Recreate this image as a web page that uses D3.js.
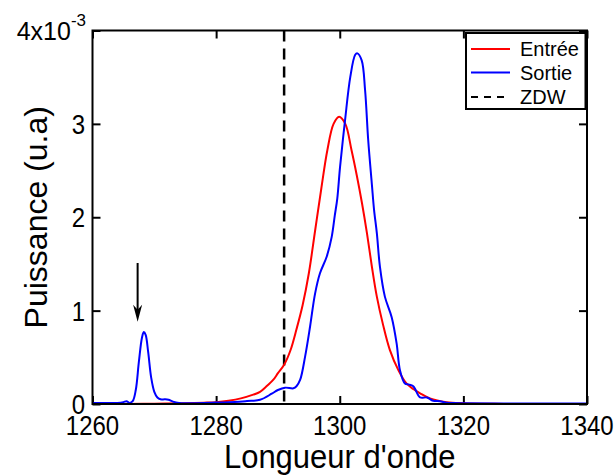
<!DOCTYPE html>
<html>
<head>
<meta charset="utf-8">
<script src="https://cdn.jsdelivr.net/npm/d3@7"></script>
<style>
  html, body { margin: 0; padding: 0; background: #fff; }
  svg { display: block; font-family: "Liberation Sans", Arial, Helvetica, sans-serif; }
</style>
</head>
<body>
<svg id="chart" width="616" height="475"></svg>
<script>
// ---- Data (power in units of 1e-3 a.u.) ----
const entreeWl = [1260, 1265, 1270, 1275, 1278, 1280, 1282, 1284, 1286, 1287.1, 1288, 1289.26, 1290, 1291, 1292, 1293, 1294, 1295, 1296, 1297, 1298, 1299, 1299.9, 1300.9, 1301.9, 1302.75, 1303.6, 1304.4, 1305.2, 1306, 1307, 1308.1, 1309.5, 1310.8, 1311.9, 1313, 1314.6, 1317.3, 1320, 1325, 1330, 1340];
const entreeVal = [0, 0.001, 0.003, 0.008, 0.014, 0.02, 0.035, 0.06, 0.1, 0.13, 0.18, 0.26, 0.33, 0.42, 0.57, 0.80, 1.06, 1.40, 1.85, 2.30, 2.72, 3.0, 3.076, 3.0, 2.72, 2.45, 2.15, 1.83, 1.47, 1.15, 0.85, 0.58, 0.36, 0.22, 0.16, 0.115, 0.06, 0.02, 0.008, 0.002, 0, 0];

const sortieWl = [1260, 1262, 1264, 1265, 1265.5, 1266, 1266.5, 1267, 1267.5, 1268, 1268.3, 1268.6, 1269, 1269.5, 1270, 1270.5, 1271, 1271.7, 1272.3, 1273, 1274, 1276, 1280, 1283, 1285, 1287.1, 1289, 1290, 1291.15, 1292.5, 1293, 1293.6, 1294.4, 1295.2, 1296, 1296.8, 1297.9, 1298.7, 1299.2, 1299.6, 1300.05, 1300.86, 1301.7, 1302.5, 1302.85, 1303.55, 1304.1, 1304.6, 1305.2, 1305.55, 1306, 1306.5, 1307.3, 1308.4, 1309.2, 1309.75, 1310.55, 1311.1, 1311.9, 1313, 1314.1, 1315.1, 1316.2, 1317.3, 1318.4, 1320, 1330, 1340];
const sortieVal = [0.01, 0.01, 0.012, 0.02, 0.03, 0.012, 0.03, 0.15, 0.45, 0.71, 0.77, 0.74, 0.56, 0.28, 0.13, 0.07, 0.05, 0.05, 0.045, 0.025, 0.01, 0.008, 0.015, 0.022, 0.032, 0.045, 0.11, 0.15, 0.175, 0.168, 0.19, 0.26, 0.51, 0.83, 1.18, 1.40, 1.58, 1.79, 2.02, 2.2, 2.54, 3.04, 3.50, 3.74, 3.755, 3.68, 3.36, 2.83, 2.35, 2.08, 1.83, 1.47, 1.15, 0.93, 0.65, 0.36, 0.22, 0.21, 0.19, 0.07, 0.07, 0.035, 0.03, 0.014, 0.01, 0.008, 0.006, 0.006];

const zdw = 1291;
const arrowWl = 1267.3, arrowFrom = 1.51, arrowTo = 0.88;

const xTicks = [1260, 1280, 1300, 1320, 1340];
const yTicks = [0, 1, 2, 3, 4];
const yTickLabels = ["0", "1", "2", "3", "4"];
const exponentLabel = "x10", exponentSup = "-3";
const legendLabels = ["Entrée", "Sortie", "ZDW"];
const legendColors = ["#ff0000", "#0000ff", "#000000"];
const xLabel = "Longueur d'onde", yLabel = "Puissance (u.a)";

// ---- Layout ----
const L = 92.5, R = 587, T = 30.5, B = 404;
const svg = d3.select("#chart");
const x = d3.scaleLinear().domain([1260, 1340]).range([L, R]);
const y = d3.scaleLinear().domain([0, 4]).range([B, T]);

function addText(px, py, str, size, anchor, k) {
  return svg.append("text")
    .attr("transform", `translate(${px},${py}) scale(1,${k})`)
    .attr("text-anchor", anchor).attr("font-size", size).attr("fill", "#000").text(str);
}

// Axes (ticks inside, box)
const tickLen = 8;
const gx = svg.append("g").attr("transform", `translate(0,${B})`)
  .call(d3.axisBottom(x).tickValues(xTicks).tickSize(-tickLen).tickFormat(""));
const gxt = svg.append("g").attr("transform", `translate(0,${T})`)
  .call(d3.axisTop(x).tickValues(xTicks).tickSize(-tickLen).tickFormat(""));
const gy = svg.append("g").attr("transform", `translate(${L},0)`)
  .call(d3.axisLeft(y).tickValues(yTicks).tickSize(-tickLen).tickFormat(""));
const gyr = svg.append("g").attr("transform", `translate(${R},0)`)
  .call(d3.axisRight(y).tickValues(yTicks).tickSize(-tickLen).tickFormat(""));
[gx, gxt, gy, gyr].forEach(g => {
  g.select(".domain").remove();
  g.selectAll(".tick line").attr("stroke", "#000").attr("stroke-width", 2);
  g.selectAll(".tick text").remove();
});

// Tick labels
const tk = 1.15, tfs = 24;
xTicks.forEach(v => addText(x(v), 435, d3.format("d")(v), tfs, "middle", tk));
yTicks.forEach((v, i) => {
  if (v === 4) {
    const t = addText(86, y(v) + 9, null, 25, "end", 1.0);
    t.append("tspan").text(yTickLabels[i] + exponentLabel);
    t.append("tspan").text(exponentSup).attr("font-size", 17).attr("dy", -14);
  } else {
    addText(85, y(v) + 0.358 * tfs * tk, yTickLabels[i], tfs, "end", tk);
  }
});

// ZDW dashed line
svg.append("line")
  .attr("x1", x(zdw)).attr("x2", x(zdw)).attr("y1", T).attr("y2", B)
  .attr("stroke", "#000").attr("stroke-width", 2.5).attr("stroke-dasharray", "11,7");

// Curves
const line = d3.line().x(d => x(d[0])).y(d => y(d[1])).curve(d3.curveCatmullRom.alpha(0.5));
svg.append("path").datum(entreeWl.map((w, i) => [w, entreeVal[i]]))
  .attr("d", line).attr("fill", "none").attr("stroke", legendColors[0]).attr("stroke-width", 2);
svg.append("path").datum(sortieWl.map((w, i) => [w, sortieVal[i]]))
  .attr("d", line).attr("fill", "none").attr("stroke", legendColors[1]).attr("stroke-width", 2);

// Box
svg.append("rect").attr("x", L).attr("y", T).attr("width", R - L).attr("height", B - T)
  .attr("fill", "none").attr("stroke", "#000").attr("stroke-width", 2);

// Arrow
const ax = x(arrowWl), ay1 = y(arrowFrom), ay2 = y(arrowTo);
svg.append("line").attr("x1", ax).attr("x2", ax).attr("y1", ay1).attr("y2", ay2 - 10)
  .attr("stroke", "#000").attr("stroke-width", 2);
svg.append("path").attr("d", `M${ax},${ay2} L${ax - 4.5},${ay2 - 17} L${ax},${ay2 - 12} L${ax + 4.5},${ay2 - 17} Z`)
  .attr("fill", "#000");

// Legend
const lg = svg.append("g");
lg.append("rect").attr("x", 466).attr("y", 33).attr("width", 119.5).attr("height", 76)
  .attr("fill", "#fff").attr("stroke", "#000").attr("stroke-width", 2);
const rows = [49, 72.5, 97];
legendLabels.forEach((lab, i) => {
  lg.append("line").attr("x1", 471).attr("x2", 510).attr("y1", rows[i]).attr("y2", rows[i])
    .attr("stroke", legendColors[i]).attr("stroke-width", 2)
    .attr("stroke-dasharray", i === 2 ? "7,6" : null);
  lg.append("text").attr("x", 520).attr("y", rows[i] + 7).text(lab)
    .attr("font-size", 20).attr("fill", "#000");
});

// Axis labels
addText((L + R) / 2, 468, xLabel, 31, "middle", 1.1);
svg.append("text").attr("transform", `translate(47,${(T + B) / 2}) rotate(-90)`)
  .attr("text-anchor", "middle").attr("font-size", 32).attr("fill", "#000").text(yLabel);
</script>
</body>
</html>
